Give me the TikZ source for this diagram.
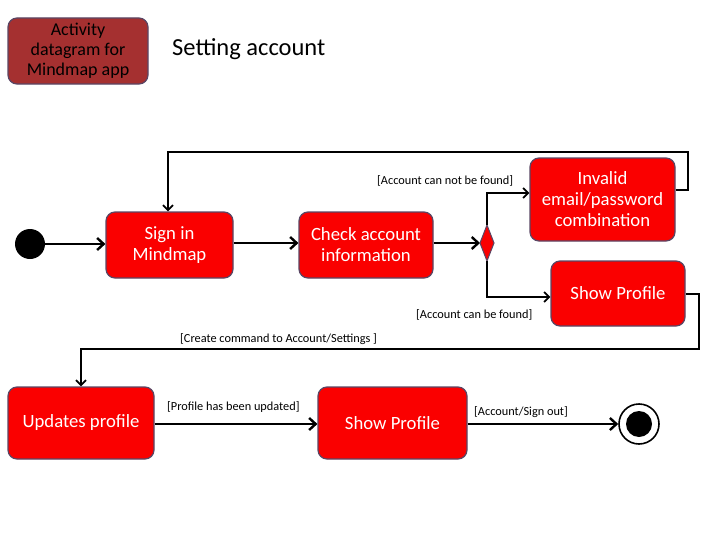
\documentclass[tikz,border=0pt]{standalone}
\usepackage{fontspec}
\setmainfont{Carlito}
\usetikzlibrary{arrows.meta}
\definecolor{actred}{RGB}{250,0,0}
\definecolor{titlered}{RGB}{165,48,48}
\definecolor{edgegray}{RGB}{90,70,100}
\begin{document}
\begin{tikzpicture}[x=1pt,y=-1pt,
  action/.style={draw=edgegray,line width=1.2pt,fill=actred,rounded corners=9pt,
    text=white,font=\fontsize{18.7}{21}\selectfont,align=center,inner sep=0pt},
  flow/.style={line width=2.4pt,-{Straight Barb[length=6.5pt,width=12pt,line width=2.4pt]}},
  loop/.style={line width=1.8pt,-{Straight Barb[length=5pt,width=10pt,line width=1.8pt]}},
  guard/.style={font=\fontsize{12.3}{14}\selectfont,inner sep=0pt}]
\useasboundingbox (0,0) rectangle (720,543);

% header
\node[draw=edgegray,line width=1.2pt,fill=titlered,rounded corners=9pt,
  minimum width=140pt,minimum height=66pt,inner sep=0pt,align=center,
  font=\fontsize{18}{20}\selectfont] (title) at (78,51) {Activity\\datagram for\\Mindmap app};
\node[anchor=west,font=\fontsize{24.5}{28}\selectfont,inner sep=0pt] (heading) at (172,49) {Setting account};

% nodes
\node[circle,fill=black,minimum size=30pt,inner sep=0pt] (start) at (30,244) {};
\node[action,minimum width=127pt,minimum height=66pt] (signin) at (169.5,245) {Sign in\\Mindmap};
\node[action,minimum width=134pt,minimum height=66pt] (check) at (366,245) {Check account\\information};
\fill[actred,draw=edgegray,line width=1pt] (480,243) -- (487,225) -- (494,243) -- (487,261) -- cycle;
\coordinate (decT) at (487,225);
\coordinate (decB) at (487,261);
\coordinate (decL) at (480,243);
\node[action,minimum width=145pt,minimum height=83pt] (invalid) at (602.5,199.5) {Invalid\\email/password\\combination};
\node[action,minimum width=134pt,minimum height=65pt] (show1) at (618,293.5) {Show Profile};
\node[action,minimum width=146pt,minimum height=72pt] (update) at (81,423) {Updates profile};
\node[action,minimum width=149pt,minimum height=72pt] (show2) at (392.5,423) {Show Profile};
\node[circle,draw=black,line width=1.6pt,fill=white,minimum size=40pt,inner sep=0pt] (end) at (639,424) {};
\node[circle,fill=black,minimum size=26pt,inner sep=0pt] (endin) at (end) {};

% connectors
\draw[flow] (start.east) -- (signin.west |- start.east);
\draw[flow] (signin.east |- 0,243) -- (check.west |- 0,243);
\draw[flow] (check.east |- 0,243) -- (decL);
\draw[loop] (decT) |- (invalid.west |- 0,193);
\draw[loop] (decB) |- (show1.west |- 0,297);
\draw[loop] (invalid.east |- 0,190) -- (688,190) -- (688,152) -- (168,152) -- (signin.north -| 168,0);
\draw[loop] (show1.east |- 0,294) -- (699,294) -- (699,349) -- (81,349) -- (update.north);
\draw[flow] (update.east |- 0,424) -- (show2.west |- 0,424);
\draw[flow] (show2.east |- 0,424) -- (end.west);

% guards
\node[guard,anchor=west] (g1) at (377,181) {[Account can not be found]};
\node[guard,anchor=west] (g2) at (416,315) {[Account can be found]};
\node[guard,anchor=west] (g3) at (180,339) {[Create command to Account/Settings ]};
\node[guard,anchor=west] (g4) at (167,407) {[Profile has been updated]};
\node[guard,anchor=west] (g5) at (474,412) {[Account/Sign out]};
\end{tikzpicture}
\end{document}
